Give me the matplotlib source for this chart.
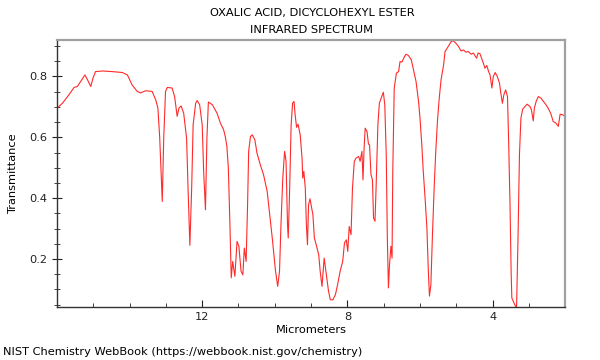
import matplotlib
matplotlib.use("Agg")
import matplotlib.pyplot as plt
from matplotlib.ticker import MultipleLocator, FixedLocator

# wavelength (micrometers) and transmittance
um = [16.0, 15.85, 15.67, 15.53, 15.44, 15.32, 15.23, 15.16, 15.07, 15.01,
      14.94, 14.75, 14.48, 14.2, 14.06, 13.93, 13.79, 13.7, 13.56, 13.38,
      13.28, 13.22, 13.17, 13.10, 13.06, 13.01, 12.96, 12.83, 12.76, 12.69,
      12.64, 12.58, 12.51, 12.43, 12.39, 12.34, 12.29, 12.25, 12.18, 12.14,
      12.07, 12.0, 11.96, 11.91, 11.87, 11.83, 11.72, 11.59, 11.5, 11.41,
      11.36, 11.32, 11.28, 11.24, 11.2, 11.16, 11.10, 11.04, 10.99, 10.93,
      10.88, 10.84, 10.79, 10.75, 10.72, 10.67, 10.62, 10.55, 10.49, 10.4,
      10.31, 10.21, 10.15, 10.07, 9.98, 9.92, 9.87, 9.83, 9.78, 9.73,
      9.69, 9.65, 9.63, 9.59, 9.55, 9.51, 9.47, 9.44, 9.40, 9.36,
      9.30, 9.25, 9.23, 9.2, 9.16, 9.13, 9.10, 9.07, 9.03, 8.95,
      8.91, 8.86, 8.79, 8.75, 8.70, 8.64, 8.58, 8.52, 8.47, 8.40,
      8.33, 8.27, 8.20, 8.13, 8.08, 8.03, 7.99, 7.95, 7.90, 7.86,
      7.81, 7.76, 7.69, 7.65, 7.60, 7.57, 7.54, 7.51, 7.46, 7.42,
      7.39, 7.35, 7.31, 7.28, 7.24, 7.21, 7.16, 7.12, 7.07, 7.01,
      6.97, 6.93, 6.90, 6.87, 6.84, 6.80, 6.77, 6.75, 6.71, 6.65,
      6.59, 6.55, 6.50, 6.45, 6.39, 6.32, 6.24, 6.18, 6.11, 6.04,
      6.0, 5.95, 5.91, 5.86, 5.81, 5.77, 5.74, 5.70, 5.66, 5.61,
      5.57, 5.52, 5.47, 5.42, 5.35, 5.31, 5.22, 5.14, 5.08, 5.01,
      4.94, 4.87, 4.80, 4.74, 4.67, 4.59, 4.53, 4.49, 4.44, 4.40,
      4.35, 4.27, 4.21, 4.16, 4.11, 4.07, 4.02, 3.98, 3.93, 3.87,
      3.81, 3.78, 3.73, 3.69, 3.64, 3.59, 3.56, 3.52, 3.49, 3.47,
      3.43, 3.39, 3.34, 3.30, 3.26, 3.22, 3.17, 3.11, 3.05, 2.97,
      2.93, 2.88, 2.85, 2.80, 2.74, 2.67, 2.60, 2.53, 2.47, 2.40,
      2.33, 2.26, 2.19, 2.14, 2.07, 2.0]
trans = [0.696, 0.712, 0.740, 0.764, 0.767, 0.789, 0.805, 0.789, 0.767, 0.794,
         0.816, 0.818, 0.816, 0.813, 0.805, 0.772, 0.751, 0.746, 0.753, 0.751,
         0.723, 0.696, 0.597, 0.389, 0.597, 0.751, 0.764, 0.762, 0.734, 0.669,
         0.696, 0.703, 0.679, 0.597, 0.433, 0.245, 0.433, 0.641, 0.712, 0.721,
         0.707, 0.641, 0.488, 0.362, 0.597, 0.716, 0.707, 0.679, 0.647, 0.625,
         0.600, 0.570, 0.500, 0.330, 0.138, 0.192, 0.143, 0.258, 0.242, 0.160,
         0.148, 0.236, 0.192, 0.378, 0.554, 0.603, 0.608, 0.592, 0.548, 0.510,
         0.477, 0.422, 0.357, 0.269, 0.160, 0.110, 0.160, 0.313, 0.466, 0.554,
         0.521, 0.313, 0.269, 0.433, 0.641, 0.712, 0.718, 0.674, 0.633, 0.643,
         0.608, 0.532, 0.466, 0.488, 0.433, 0.313, 0.247, 0.378, 0.398, 0.345,
         0.269, 0.247, 0.214, 0.160, 0.110, 0.203, 0.148, 0.094, 0.066, 0.066,
         0.083, 0.116, 0.160, 0.192, 0.253, 0.263, 0.225, 0.307, 0.280, 0.433,
         0.521, 0.532, 0.537, 0.521, 0.554, 0.460, 0.565, 0.630, 0.619, 0.578,
         0.575, 0.477, 0.460, 0.335, 0.324, 0.433, 0.641, 0.712, 0.729, 0.748,
         0.707, 0.543, 0.269, 0.105, 0.181, 0.242, 0.203, 0.488, 0.762, 0.811,
         0.816, 0.849, 0.847, 0.860, 0.873, 0.869, 0.855, 0.822, 0.784, 0.718,
         0.663, 0.575, 0.488, 0.400, 0.302, 0.160, 0.078, 0.116, 0.269, 0.433,
         0.543, 0.652, 0.729, 0.789, 0.838, 0.882, 0.899, 0.915, 0.917, 0.909,
         0.899, 0.884, 0.887, 0.880, 0.882, 0.873, 0.877, 0.869, 0.860, 0.877,
         0.875, 0.849, 0.827, 0.836, 0.816, 0.805, 0.762, 0.800, 0.813, 0.800,
         0.778, 0.751, 0.712, 0.740, 0.756, 0.734, 0.597, 0.378, 0.160, 0.072,
         0.061, 0.050, 0.039, 0.269, 0.543, 0.663, 0.693, 0.701, 0.709, 0.701,
         0.690, 0.654, 0.696, 0.718, 0.734, 0.729, 0.718, 0.707, 0.696, 0.679,
         0.652, 0.647, 0.636, 0.676, 0.674, 0.669]

fs = 8.2
fig = plt.figure(figsize=(6, 3.6), dpi=100)
ax = fig.add_axes([0.095, 0.147, 0.847, 0.742])
ax.plot(um, trans, color='#ff2a2a', linewidth=0.8)

ax.set_xlim(16, 2)
ax.set_ylim(0.042, 0.92)
ax.xaxis.set_major_locator(FixedLocator([12, 8, 4]))
ax.xaxis.set_minor_locator(MultipleLocator(1))
ax.yaxis.set_major_locator(FixedLocator([0.2, 0.4, 0.6, 0.8]))
ax.yaxis.set_minor_locator(MultipleLocator(0.05))
ax.tick_params(axis='x', which='both', direction='in', labelsize=fs, colors='#222222')
ax.tick_params(axis='x', which='major', length=5)
ax.tick_params(axis='x', which='minor', length=3)
ax.tick_params(axis='y', which='both', direction='inout', labelsize=fs, colors='#222222')
ax.tick_params(axis='y', which='major', length=7)
ax.tick_params(axis='y', which='minor', length=4)

for s in ['top', 'right']:
    ax.spines[s].set_color('#a0a0a0')
    ax.spines[s].set_linewidth(1.6)
for s in ['left', 'bottom']:
    ax.spines[s].set_color('#333333')
    ax.spines[s].set_linewidth(1.0)

ax.set_xlabel('Micrometers', fontsize=fs, labelpad=2)
ax.set_ylabel('Transmittance', fontsize=fs, labelpad=8)
fig.text(0.52, 0.965, 'OXALIC ACID, DICYCLOHEXYL ESTER', ha='center', va='center', fontsize=fs)
fig.text(0.52, 0.918, 'INFRARED SPECTRUM', ha='center', va='center', fontsize=fs)
fig.text(0.005, 0.022, 'NIST Chemistry WebBook (https://webbook.nist.gov/chemistry)', ha='left', va='center', fontsize=fs)

fig.savefig('out.png', dpi=100)
